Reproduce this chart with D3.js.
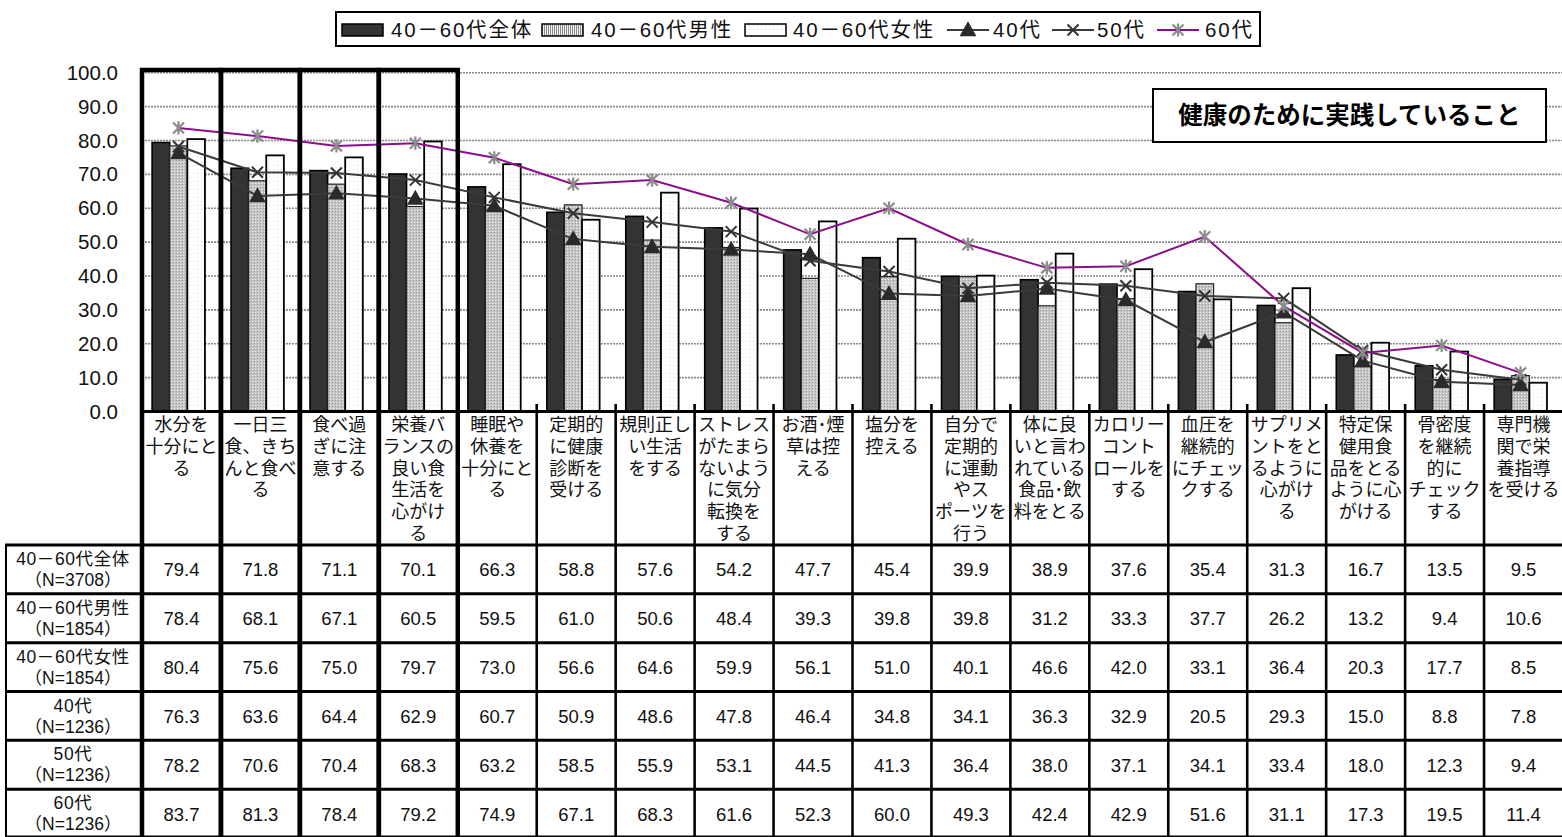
<!DOCTYPE html>
<html lang="ja">
<head>
<meta charset="utf-8">
<script src="https://cdn.jsdelivr.net/npm/d3@7"></script>
<style>
  html, body { margin: 0; padding: 0; background: #fff; }
  svg { display: block; font-family: "Liberation Sans", "Noto Sans CJK JP", sans-serif; }
</style>
</head>
<body>
<svg id="chart" width="1562" height="837"></svg>
<script>
// Practices for health, by item (multi-line labels in the category header)
const categories = [
  ["水分を", "十分にと", "る"],
  ["一日三", "食、きち", "んと食べ", "る"],
  ["食べ過", "ぎに注", "意する"],
  ["栄養バ", "ランスの", "良い食", "生活を", "心がけ", "る"],
  ["睡眠や", "休養を", "十分にと", "る"],
  ["定期的", "に健康", "診断を", "受ける"],
  ["規則正し", "い生活", "をする"],
  ["ストレス", "がたまら", "ないよう", "に気分", "転換を", "する"],
  ["お酒･煙", "草は控", "える"],
  ["塩分を", "控える"],
  ["自分で", "定期的", "に運動", "やス", "ポーツを", "行う"],
  ["体に良", "いと言わ", "れている", "食品･飲", "料をとる"],
  ["カロリー", "コント", "ロールを", "する"],
  ["血圧を", "継続的", "にチェッ", "クする"],
  ["サプリメ", "ントをと", "るように", "心がけ", "る"],
  ["特定保", "健用食", "品をとる", "ように心", "がける"],
  ["骨密度", "を継続", "的に", "チェック", "する"],
  ["専門機", "関で栄", "養指導", "を受ける"]
];

// Series values (%)
const totalAll = [79.4, 71.8, 71.1, 70.1, 66.3, 58.8, 57.6, 54.2, 47.7, 45.4, 39.9, 38.9, 37.6, 35.4, 31.3, 16.7, 13.5, 9.5];
const men      = [78.4, 68.1, 67.1, 60.5, 59.5, 61.0, 50.6, 48.4, 39.3, 39.8, 39.8, 31.2, 33.3, 37.7, 26.2, 13.2, 9.4, 10.6];
const women    = [80.4, 75.6, 75.0, 79.7, 73.0, 56.6, 64.6, 59.9, 56.1, 51.0, 40.1, 46.6, 42.0, 33.1, 36.4, 20.3, 17.7, 8.5];
const age40s   = [76.3, 63.6, 64.4, 62.9, 60.7, 50.9, 48.6, 47.8, 46.4, 34.8, 34.1, 36.3, 32.9, 20.5, 29.3, 15.0, 8.8, 7.8];
const age50s   = [78.2, 70.6, 70.4, 68.3, 63.2, 58.5, 55.9, 53.1, 44.5, 41.3, 36.4, 38.0, 37.1, 34.1, 33.4, 18.0, 12.3, 9.4];
const age60s   = [83.7, 81.3, 78.4, 79.2, 74.9, 67.1, 68.3, 61.6, 52.3, 60.0, 49.3, 42.4, 42.9, 51.6, 31.1, 17.3, 19.5, 11.4];

const seriesNames = ["40－60代全体", "40－60代男性", "40－60代女性", "40代", "50代", "60代"];
const sampleSizes = ["（N=3708）", "（N=1854）", "（N=1854）", "（N=1236）", "（N=1236）", "（N=1236）"];
const yTicks = [0, 10, 20, 30, 40, 50, 60, 70, 80, 90, 100];
const highlighted = [0, 1, 2, 3];
const chartTitle = "健康のために実践していること";

const svg = d3.select("#chart");
const W = 1562;

// ---- patterns for bar fills
const defs = svg.append("defs");
const pMen = defs.append("pattern").attr("id", "pat-men").attr("patternUnits", "userSpaceOnUse")
  .attr("width", 3).attr("height", 3);
pMen.append("rect").attr("width", 3).attr("height", 3).attr("fill", "#c4c4c4");
pMen.append("rect").attr("x", 0).attr("y", 0).attr("width", 1).attr("height", 1).attr("fill", "#f2f2f2");
pMen.append("rect").attr("x", 2).attr("y", 1).attr("width", 1).attr("height", 1).attr("fill", "#9a9a9a");
const pMenLeg = defs.append("pattern").attr("id", "pat-men-leg").attr("patternUnits", "userSpaceOnUse")
  .attr("width", 2).attr("height", 4);
pMenLeg.append("rect").attr("width", 2).attr("height", 4).attr("fill", "#f4f4f4");
pMenLeg.append("rect").attr("width", 1).attr("height", 4).attr("fill", "#8c8c8c");
const pWomen = defs.append("pattern").attr("id", "pat-women").attr("patternUnits", "userSpaceOnUse")
  .attr("width", 4).attr("height", 4);
pWomen.append("rect").attr("width", 4).attr("height", 4).attr("fill", "#ffffff");
pWomen.append("rect").attr("x", 1).attr("y", 1).attr("width", 1).attr("height", 1).attr("fill", "#dcdcdc");

// ---- scales
const x = d3.scaleBand().domain(d3.range(categories.length)).range([142, 1563]).padding(0);
const y = d3.scaleLinear().domain([0, 100]).range([411.5, 72.7]);
const bw = x.bandwidth();
const barW = bw * 0.223;
const groupOff = bw * 0.128;
const lineX = i => x(i) + groupOff + barW * 1.5;

// ---- gridlines
svg.append("g").selectAll("line").data(yTicks.filter(t => t > 0)).join("line")
  .attr("x1", 142).attr("x2", W)
  .attr("y1", d => y(d)).attr("y2", d => y(d))
  .attr("stroke", "#8a8a8a").attr("stroke-width", 1.6).attr("stroke-dasharray", "2,1");

// ---- y axis labels
const yAxis = d3.axisLeft(y).tickValues(yTicks).tickFormat(d3.format(".1f")).tickSize(0).tickPadding(24);
const gy = svg.append("g").attr("transform", "translate(142,0)").call(yAxis);
gy.select(".domain").remove();
gy.selectAll("text").attr("font-size", 20.5).attr("fill", "#111")
  .attr("font-family", "'Liberation Sans', sans-serif");

// ---- bars
const barSeries = [
  { vals: totalAll, fill: "#333333", stroke: "#000", sw: 1.6 },
  { vals: men, fill: "url(#pat-men)", stroke: "#222", sw: 1.2 },
  { vals: women, fill: "url(#pat-women)", stroke: "#000", sw: 1.8 }
];
barSeries.forEach((s, k) => {
  svg.append("g").selectAll("rect").data(s.vals).join("rect")
    .attr("x", (d, i) => x(i) + groupOff + k * barW)
    .attr("y", d => y(d))
    .attr("width", barW)
    .attr("height", d => y(0) - y(d))
    .attr("fill", s.fill).attr("stroke", s.stroke).attr("stroke-width", s.sw);
});

// ---- markers
function triangle(g, cx, cy, s) {
  g.append("path").attr("d", `M${cx},${cy - s * 0.62}L${cx + s * 0.6},${cy + s * 0.45}L${cx - s * 0.6},${cy + s * 0.45}Z`)
    .attr("fill", "#2a2a2a");
}
function cross(g, cx, cy, s, color) {
  g.append("path").attr("d", `M${cx - s},${cy - s}L${cx + s},${cy + s}M${cx - s},${cy + s}L${cx + s},${cy - s}`)
    .attr("stroke", color).attr("stroke-width", 2).attr("fill", "none");
}
function star(g, cx, cy, s, color) {
  g.append("path").attr("d",
    `M${cx - s},${cy - s}L${cx + s},${cy + s}M${cx - s},${cy + s}L${cx + s},${cy - s}M${cx},${cy - s * 1.2}L${cx},${cy + s * 1.2}`)
    .attr("stroke", color).attr("stroke-width", 2.2).attr("fill", "none");
}

// ---- lines
const lineSeries = [
  { vals: age40s, color: "#3a3a3a", marker: (g, cx, cy) => triangle(g, cx, cy, 14) },
  { vals: age50s, color: "#3a3a3a", marker: (g, cx, cy) => cross(g, cx, cy, 5.5, "#333") },
  { vals: age60s, color: "#8b0f8b", marker: (g, cx, cy) => star(g, cx, cy, 5.5, "#8c8c8c") }
];
const lineGen = d3.line().x((d, i) => lineX(i)).y(d => y(d));
lineSeries.forEach(s => {
  svg.append("path").datum(s.vals).attr("d", lineGen)
    .attr("fill", "none").attr("stroke", s.color).attr("stroke-width", 2);
});
lineSeries.forEach(s => {
  const g = svg.append("g");
  s.vals.forEach((v, i) => s.marker(g, lineX(i), y(v)));
});

// ---- table
const tableTop = 545, tableBottom = 838;
const rowY = d3.scaleBand().domain(d3.range(seriesNames.length)).range([tableTop, tableBottom]);
const rowVals = [totalAll, men, women, age40s, age50s, age60s];

// category header labels
const catG = svg.append("g").attr("font-size", 18).attr("fill", "#111").attr("text-anchor", "middle");
categories.forEach((lines, i) => {
  lines.forEach((ln, j) => {
    catG.append("text").attr("x", x(i) + bw / 2).attr("y", 431 + j * 21.8).text(ln);
  });
});

// values
const valG = svg.append("g").attr("font-size", 18.5).attr("fill", "#111").attr("text-anchor", "middle");
rowVals.forEach((vals, r) => {
  vals.forEach((v, i) => {
    valG.append("text").attr("x", x(i) + bw / 2).attr("y", rowY(r) + rowY.bandwidth() / 2 + 7)
      .text(d3.format(".1f")(v));
  });
});

// row headers
const rhG = svg.append("g").attr("font-size", 17.5).attr("fill", "#111").attr("text-anchor", "middle");
seriesNames.forEach((name, r) => {
  rhG.append("text").attr("x", 73).attr("y", rowY(r) + 20).attr("letter-spacing", 0.6).text(name);
  rhG.append("text").attr("x", 73).attr("y", rowY(r) + 41).text(sampleSizes[r]);
});

// table rules
const rules = svg.append("g").attr("stroke", "#000");
d3.range(seriesNames.length + 1).forEach(r => {
  const yy = r < seriesNames.length ? rowY(r) : tableBottom - 1;
  rules.append("line").attr("x1", 5).attr("x2", W).attr("y1", yy).attr("y2", yy).attr("stroke-width", 3);
});
rules.append("line").attr("x1", 6).attr("x2", 6).attr("y1", tableTop).attr("y2", tableBottom).attr("stroke-width", 2);
d3.range(1, categories.length).forEach(i => {
  rules.append("line").attr("x1", x(i)).attr("x2", x(i)).attr("y1", 404).attr("y2", tableBottom).attr("stroke-width", 2.6);
});
// x axis baseline and left axis
rules.append("line").attr("x1", 142).attr("x2", W).attr("y1", 411.5).attr("y2", 411.5).attr("stroke-width", 3);
rules.append("line").attr("x1", 142).attr("x2", 142).attr("y1", 70).attr("y2", tableBottom).attr("stroke-width", 4);

// highlighted columns
svg.append("g").selectAll("rect").data(highlighted).join("rect")
  .attr("x", i => x(i)).attr("y", 70)
  .attr("width", bw).attr("height", tableBottom + 5 - 70)
  .attr("fill", "none").attr("stroke", "#000").attr("stroke-width", 4.5);

// ---- title box
svg.append("rect").attr("x", 1153).attr("y", 89).attr("width", 393).attr("height", 53)
  .attr("fill", "#fff").attr("stroke", "#000").attr("stroke-width", 2);
svg.append("text").attr("x", 1349.5).attr("y", 124).attr("text-anchor", "middle")
  .attr("font-size", 24.5).attr("font-weight", "bold").attr("fill", "#000").text(chartTitle);

// ---- legend
const leg = svg.append("g");
leg.append("rect").attr("x", 336).attr("y", 12).attr("width", 924).attr("height", 34)
  .attr("fill", "#fff").attr("stroke", "#000").attr("stroke-width", 2);
const legCy = 30;
const legKeyX = [342, 542, 745, 947, 1052, 1157];
const legTextX = [391, 591, 793, 993, 1097, 1205];
const legFills = ["#333333", "url(#pat-men-leg)", "url(#pat-women)"];
seriesNames.forEach((name, k) => {
  const kx = legKeyX[k];
  if (k < 3) {
    leg.append("rect").attr("x", kx).attr("y", legCy - 6).attr("width", 41).attr("height", 12)
      .attr("fill", legFills[k]).attr("stroke", "#000").attr("stroke-width", 1.5);
  } else {
    const s = lineSeries[k - 3];
    leg.append("line").attr("x1", kx).attr("x2", kx + 42).attr("y1", legCy).attr("y2", legCy)
      .attr("stroke", s.color).attr("stroke-width", 2);
    s.marker(leg, kx + 21, legCy);
  }
  leg.append("text").attr("x", legTextX[k]).attr("y", legCy + 7).attr("font-size", 20.5)
    .attr("fill", "#111").attr("letter-spacing", 1.8).text(name);
});
</script>
</body>
</html>
